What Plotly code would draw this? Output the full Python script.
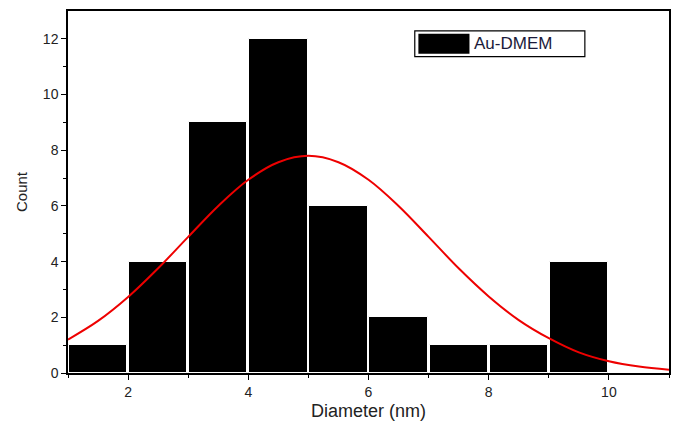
import plotly.graph_objects as go

# Histogram data
bin_centers = [1.5, 2.5, 3.5, 4.5, 5.5, 6.5, 7.5, 8.5, 9.5]
counts = [1, 4, 9, 12, 6, 2, 1, 1, 4]

# Fitted curve, values
fit_x = [1, 1.5, 2, 2.5, 3, 3.5, 4, 4.5, 5, 5.5, 6, 6.5, 7, 7.5, 8, 8.5, 9, 9.5, 10, 10.5, 11]
fit_y = [1.2, 1.87, 2.73, 3.76, 4.89, 6.0, 6.94, 7.57, 7.8, 7.57, 6.94, 6.0, 4.89, 3.76, 2.75,
         1.9, 1.25, 0.74, 0.42, 0.23, 0.12]

x_ticks = [2, 4, 6, 8, 10]
y_ticks = [0, 2, 4, 6, 8, 10, 12]

fig = go.Figure()
fig.add_trace(go.Bar(x=bin_centers, y=counts, width=0.97,
                     marker=dict(color="black", line=dict(color="white", width=1)),
                     name="Au-DMEM", showlegend=False))
fig.add_trace(go.Scatter(x=fit_x, y=fit_y, mode="lines", line=dict(color="#ee0000", width=2, shape="spline"),
                         showlegend=False))

font_family = "Liberation Sans, Arial, sans-serif"

# Manual legend
fig.add_shape(type="rect", xref="paper", yref="paper", x0=0.577, x1=0.86, y0=0.874, y1=0.945,
              line=dict(color="black", width=1.2), fillcolor="white")
fig.add_shape(type="rect", xref="paper", yref="paper", x0=0.583, x1=0.668, y0=0.882, y1=0.937,
              line=dict(width=0), fillcolor="black")
fig.add_annotation(xref="paper", yref="paper", x=0.672, y=0.91, text="Au-DMEM", showarrow=False,
                   xanchor="left", yanchor="middle", font=dict(size=17, color="#1a1a3a", family=font_family))

fig.update_layout(
    width=674, height=428,
    margin=dict(l=68, r=3, t=11, b=55),
    paper_bgcolor="white", plot_bgcolor="white",
    font=dict(family=font_family, color="#222222", size=14),
    bargap=0,
    xaxis=dict(range=[1, 11], tickvals=x_ticks, ticks="outside", ticklen=5, tickwidth=1.2,
               tickcolor="black", showline=True, linecolor="black", linewidth=1.5, mirror=True,
               showgrid=False, zeroline=False,
               minor=dict(tickvals=[1, 3, 5, 7, 9, 11], ticks="outside", ticklen=3, tickcolor="black"),
               title=dict(text="Diameter (nm)", font=dict(size=18), standoff=6),
               tickfont=dict(size=14)),
    yaxis=dict(range=[0, 13], tickvals=y_ticks, ticks="outside", ticklen=5, tickwidth=1.2,
               tickcolor="black", showline=True, linecolor="black", linewidth=1.5, mirror=True,
               showgrid=False, zeroline=False,
               minor=dict(tickvals=[1, 3, 5, 7, 9, 11], ticks="outside", ticklen=3, tickcolor="black"),
               title=dict(text="Count", font=dict(size=15), standoff=12),
               tickfont=dict(size=14)),
)

fig.write_html("out.html")
